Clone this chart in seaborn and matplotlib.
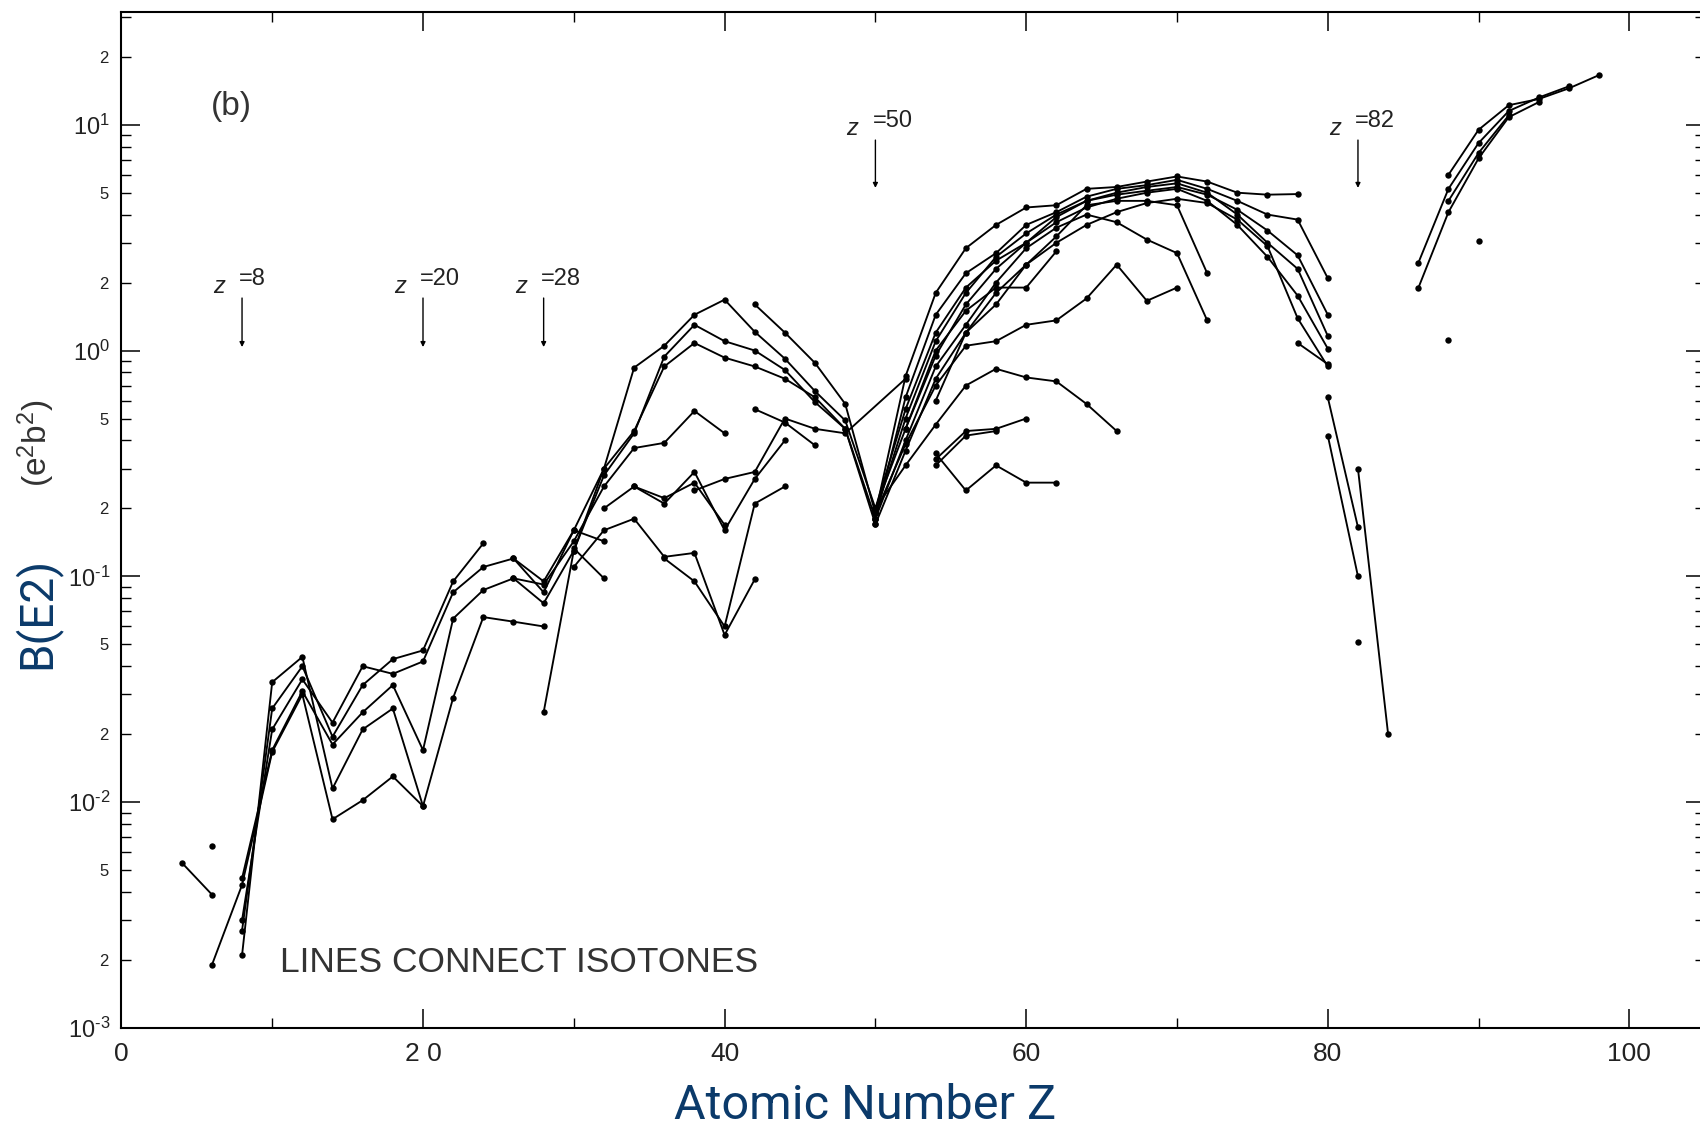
import numpy as np
import pandas as pd
import matplotlib
matplotlib.use("Agg")
import matplotlib.pyplot as plt
import matplotlib.ticker as mticker
import seaborn as sns

# ---------------- data: isotone lines (Z even, B(E2) in e^2 b^2) ----------------
z_l1 = [4, 6];  b_l1 = [5.4e-3, 3.9e-3]
z_l2 = [6];     b_l2 = [6.4e-3]
z_l3 = [6, 8, 10, 12, 14, 16, 18, 20, 22, 24, 26, 28]
b_l3 = [1.9e-3, 4.3e-3, 0.0167, 0.030, 0.0084, 0.0102, 0.013, 0.0096, 0.029, 0.066, 0.063, 0.060]
z_l4 = [8, 10, 12, 14, 16, 18, 20]
b_l4 = [2.1e-3, 0.034, 0.044, 0.0115, 0.021, 0.026, 0.0096]
z_l5 = [8, 10, 12, 14, 16, 18, 20, 22, 24]
b_l5 = [2.7e-3, 0.026, 0.040, 0.0195, 0.033, 0.043, 0.047, 0.095, 0.14]
z_l6 = [8, 10, 12, 14, 16, 18, 20, 22, 24, 26, 28, 30, 32]
b_l6 = [3.0e-3, 0.021, 0.035, 0.0225, 0.040, 0.037, 0.042, 0.085, 0.11, 0.12, 0.095, 0.16, 0.143]
z_l7 = [8, 10, 12, 14, 16, 18, 20, 22, 24, 26, 28, 30, 32, 34, 36, 38, 40]
b_l7 = [4.6e-3, 0.017, 0.031, 0.018, 0.025, 0.033, 0.017, 0.065, 0.087, 0.098, 0.092,
        0.143, 0.25, 0.37, 0.39, 0.54, 0.43]

z_m1 = [26, 28, 30, 32, 34, 36, 38, 40, 42, 44, 46, 48, 50]
b_m1 = [0.12, 0.085, 0.16, 0.30, 0.84, 1.05, 1.44, 1.68, 1.21, 0.92, 0.66, 0.49, 0.20]
z_m2 = [26, 28, 30, 32, 34, 36, 38, 40, 42, 44, 46, 48, 50]
b_m2 = [0.098, 0.076, 0.13, 0.28, 0.43, 0.94, 1.30, 1.10, 1.00, 0.82, 0.59, 0.45, 0.18]
z_m3 = [28, 30, 32, 34, 36, 38, 40, 42, 44, 46, 48, 50]
b_m3 = [0.025, 0.13, 0.30, 0.44, 0.85, 1.08, 0.93, 0.85, 0.75, 0.62, 0.45, 0.17]
z_m4 = [30, 32, 34, 36, 38, 40, 42]
b_m4 = [0.11, 0.16, 0.18, 0.122, 0.127, 0.055, 0.097]
z_m5 = [30, 32];  b_m5 = [0.133, 0.098]
z_m6 = [32, 34, 36, 38, 40, 42, 44]
b_m6 = [0.20, 0.25, 0.21, 0.29, 0.16, 0.27, 0.40]
z_m7 = [34, 36, 38, 40];  b_m7 = [0.25, 0.222, 0.26, 0.169]
z_m8 = [36, 38, 40, 42, 44];  b_m8 = [0.12, 0.095, 0.06, 0.21, 0.25]
z_m9 = [38, 40, 42, 44, 46, 48, 52]
b_m9 = [0.24, 0.27, 0.29, 0.50, 0.45, 0.43, 0.75]
z_m10 = [42, 44, 46, 48, 50];  b_m10 = [1.60, 1.20, 0.88, 0.58, 0.19]
z_m11 = [42, 44, 46];  b_m11 = [0.55, 0.48, 0.38]

z_d1 = [50, 52, 54, 56, 58, 60, 62, 64, 66, 68, 70, 72, 74, 76, 78]
b_d1 = [0.19, 0.77, 1.8, 2.84, 3.6, 4.3, 4.4, 5.2, 5.3, 5.6, 5.9, 5.6, 5.0, 4.9, 4.93]
z_d2 = [50, 52, 54, 56, 58, 60, 62, 64, 66, 68, 70, 72, 74, 76, 78, 80]
b_d2 = [0.18, 0.62, 1.44, 2.2, 2.7, 3.6, 4.1, 4.8, 5.2, 5.4, 5.7, 5.2, 4.6, 4.0, 3.8, 2.09]
z_d3 = [50, 52, 54, 56, 58, 60, 62, 64, 66, 68, 70, 72, 74, 76, 78, 80]
b_d3 = [0.20, 0.55, 1.2, 1.9, 2.5, 3.0, 3.9, 4.6, 4.9, 5.1, 5.3, 4.9, 4.2, 3.4, 2.64, 1.44]
z_d4 = [50, 52, 54, 56, 58, 60, 62];  b_d4 = [0.20, 0.45, 1.0, 1.5, 1.9, 1.9, 2.75]
z_d5 = [50, 52, 54, 56, 58, 60, 62, 64, 66, 68, 70, 72]
b_d5 = [0.18, 0.40, 0.85, 1.3, 2.0, 2.84, 3.5, 4.0, 3.7, 3.1, 2.7, 1.36]
z_d6 = [50, 52, 54, 56, 58, 60, 62, 64, 66, 68, 70, 72]
b_d6 = [0.17, 0.36, 0.75, 1.2, 1.6, 2.4, 3.2, 4.4, 4.6, 4.6, 4.4, 2.2]
z_d7 = [50, 52, 54, 56, 58, 60, 62, 64, 66, 68, 70]
b_d7 = [0.19, 0.385, 0.70, 1.05, 1.1, 1.3, 1.36, 1.7, 2.4, 1.66, 1.9]
z_d8 = [50, 52, 54, 56, 58, 60, 62, 64, 66]
b_d8 = [0.20, 0.31, 0.47, 0.70, 0.83, 0.76, 0.73, 0.58, 0.44]
z_d9 = [54, 56, 58, 60, 62];  b_d9 = [0.35, 0.24, 0.31, 0.26, 0.26]
z_d10 = [54, 56, 58, 60];  b_d10 = [0.33, 0.44, 0.45, 0.50]
z_d11 = [54, 56, 58];  b_d11 = [0.31, 0.42, 0.44]
z_d12 = [50, 52, 54, 56, 58, 60, 62, 64, 66, 68, 70, 72, 74, 76, 78, 80]
b_d12 = [0.19, 0.50, 1.1, 1.8, 2.6, 3.3, 4.0, 4.6, 5.0, 5.3, 5.5, 5.0, 4.0, 3.0, 2.3, 1.16]
z_d13 = [52, 54, 56, 58, 60, 62, 64, 66, 68, 70, 72, 74, 76, 78, 80]
b_d13 = [0.45, 0.95, 1.6, 2.3, 3.0, 3.7, 4.3, 4.7, 5.0, 5.2, 4.6, 3.6, 2.6, 1.75, 1.02]
z_d14 = [54, 56, 58, 60, 62, 64, 66, 68, 70, 72, 74, 76, 78, 80]
b_d14 = [0.60, 1.2, 1.8, 2.4, 3.0, 3.6, 4.1, 4.5, 4.7, 4.5, 3.8, 2.9, 1.39, 0.85]
z_d15 = [78, 80];  b_d15 = [1.08, 0.87]

z_e1 = [80, 82];  b_e1 = [0.62, 0.165]
z_e2 = [80, 82];  b_e2 = [0.42, 0.10]
z_e3 = [82, 84];  b_e3 = [0.30, 0.020]
z_e4 = [82];      b_e4 = [0.051]

z_h1 = [88, 90, 92, 94, 96, 98];  b_h1 = [6.0, 9.5, 12.2, 13.0, 14.5, 16.6]
z_h2 = [86, 88, 90, 92, 94, 96];  b_h2 = [2.44, 5.2, 8.3, 11.5, 13.2, 14.8]
z_h3 = [86, 88, 90, 92, 94];      b_h3 = [1.89, 4.1, 7.1, 10.8, 12.6]
z_h4 = [88, 90, 92];              b_h4 = [4.6, 7.5, 11.0]
z_h5 = [88];  b_h5 = [1.11]
z_h6 = [90];  b_h6 = [3.04]

magic_z = [8, 20, 28, 50, 82]
magic_labels = ["=8", "=20", "=28", "=50", "=82"]

x_ticks = [0, 20, 40, 60, 80, 100]
x_ticklabels = ["0", "2 0", "40", "60", "80", "100"]

series = [
    (z_l1, b_l1), (z_l2, b_l2), (z_l3, b_l3), (z_l4, b_l4), (z_l5, b_l5), (z_l6, b_l6), (z_l7, b_l7),
    (z_m1, b_m1), (z_m2, b_m2), (z_m3, b_m3), (z_m4, b_m4), (z_m5, b_m5), (z_m6, b_m6),
    (z_m7, b_m7), (z_m8, b_m8), (z_m9, b_m9), (z_m10, b_m10), (z_m11, b_m11),
    (z_d1, b_d1), (z_d2, b_d2), (z_d3, b_d3), (z_d4, b_d4), (z_d5, b_d5), (z_d6, b_d6),
    (z_d7, b_d7), (z_d8, b_d8), (z_d9, b_d9), (z_d10, b_d10), (z_d11, b_d11), (z_d12, b_d12),
    (z_d13, b_d13), (z_d14, b_d14), (z_d15, b_d15),
    (z_e1, b_e1), (z_e2, b_e2), (z_e3, b_e3), (z_e4, b_e4),
    (z_h1, b_h1), (z_h2, b_h2), (z_h3, b_h3), (z_h4, b_h4), (z_h5, b_h5), (z_h6, b_h6),
]
rows = []
for i, (zs, bs) in enumerate(series):
    for z, b in zip(zs, bs):
        rows.append({"iso": i, "Z": z, "B": b})
df = pd.DataFrame(rows)

# ---------------- styling ----------------
sns.set_style("ticks")
plt.rcParams["font.family"] = ["Liberation Sans", "DejaVu Sans"]
plt.rcParams["mathtext.fontset"] = "custom"
plt.rcParams["mathtext.rm"] = "Liberation Sans"
plt.rcParams["mathtext.it"] = "Liberation Sans:italic"

W, H = 1700, 1129
fig = plt.figure(figsize=(W / 100, H / 100), dpi=100)
ax = fig.add_axes([121.4 / W, (H - 1028) / H, 105 * 15.08 / W, (1028 - 11.8) / H])

sns.lineplot(data=df, x="Z", y="B", units="iso", estimator=None, sort=False,
             color="black", marker="o", markersize=4.6, markeredgewidth=0,
             linewidth=1.35, legend=False, ax=ax)

ax.set_yscale("log")
ax.set_xlim(0, 105)
ax.set_ylim(1e-3, 10 ** 1.5)
ax.set_xlabel("")
ax.set_ylabel("")

for side in ["left", "bottom", "top"]:
    ax.spines[side].set_linewidth(1.5)
    ax.spines[side].set_color("black")
ax.spines["right"].set_visible(False)

ax.set_xticks(x_ticks)
ax.set_xticklabels(x_ticklabels)
ax.xaxis.set_minor_locator(mticker.FixedLocator([10, 30, 50, 70, 90]))


def major_fmt(v, p):
    e = int(round(np.log10(v)))
    if e < 0:
        return r"$10^{\text{-}%d}$" % (-e)
    return r"$10^{%d}$" % e


def minor_fmt(v, p):
    m = v / 10 ** np.floor(np.log10(v) + 1e-9)
    r = int(round(m))
    return str(r) if r in (2, 5) and abs(m - r) < 1e-6 else ""


ax.yaxis.set_major_locator(mticker.LogLocator(base=10, numticks=12))
ax.yaxis.set_major_formatter(mticker.FuncFormatter(major_fmt))
ax.yaxis.set_minor_locator(mticker.LogLocator(base=10, subs=np.arange(2, 10), numticks=12))
ax.yaxis.set_minor_formatter(mticker.FuncFormatter(minor_fmt))

ax.tick_params(axis="both", which="major", direction="in", length=14, width=1.1,
               top=True, right=True, color="black")
ax.tick_params(axis="both", which="minor", direction="in", length=7, width=1.0,
               top=True, right=True, color="black")
ax.tick_params(axis="y", which="major", labelsize=17, pad=8, labelcolor="#222222")
ax.tick_params(axis="y", which="minor", labelsize=12, pad=9, labelcolor="#222222")
ax.tick_params(axis="x", which="major", labelsize=19, pad=10, labelcolor="#222222")

# axis titles
navy = "#0b3a6a"
fig.text(865 / W, 1 - 1106 / H, "Atomic Number Z", fontsize=35, color=navy,
         ha="center", va="center", family=["Roboto", "DejaVu Sans"])
fig.text(36 / W, 1 - 613 / H, "B(E2)", fontsize=33, color=navy, rotation=90,
         ha="center", va="center", family=["Roboto", "DejaVu Sans"])
fig.text(36 / W, 1 - 443 / H, r"(e$^{2}$b$^{2}$)", fontsize=24, color="#333333",
         rotation=90, ha="center", va="center")

fig.text(231 / W, 1 - 106 / H, "(b)", fontsize=24, color="#333333", ha="center", va="center")
fig.text(280 / W, 1 - 963 / H, "LINES CONNECT ISOTONES", fontsize=25.5, color="#333333",
         ha="left", va="center")

# magic numbers with arrows
arrow_top = [1.708, 1.708, 1.708, 8.55, 8.55]
arrow_bot = [1.036, 1.036, 1.036, 5.25, 5.25]
for zm, lab, yt, yb in zip(magic_z, magic_labels, arrow_top, arrow_bot):
    ax.annotate("", xy=(zm, yb), xytext=(zm, yt),
                arrowprops=dict(arrowstyle="-|>", color="black", lw=1.0,
                                mutation_scale=7, shrinkA=0, shrinkB=0))
    ax.annotate("z", xy=(zm, yt), xytext=(-23, 12), textcoords="offset pixels",
                fontsize=17, style="italic", color="#222222", ha="center", va="center")
    ax.annotate(lab, xy=(zm, yt), xytext=(-3, 19), textcoords="offset pixels",
                fontsize=17, color="#222222", ha="left", va="center")

fig.savefig("out.png", dpi=100)
